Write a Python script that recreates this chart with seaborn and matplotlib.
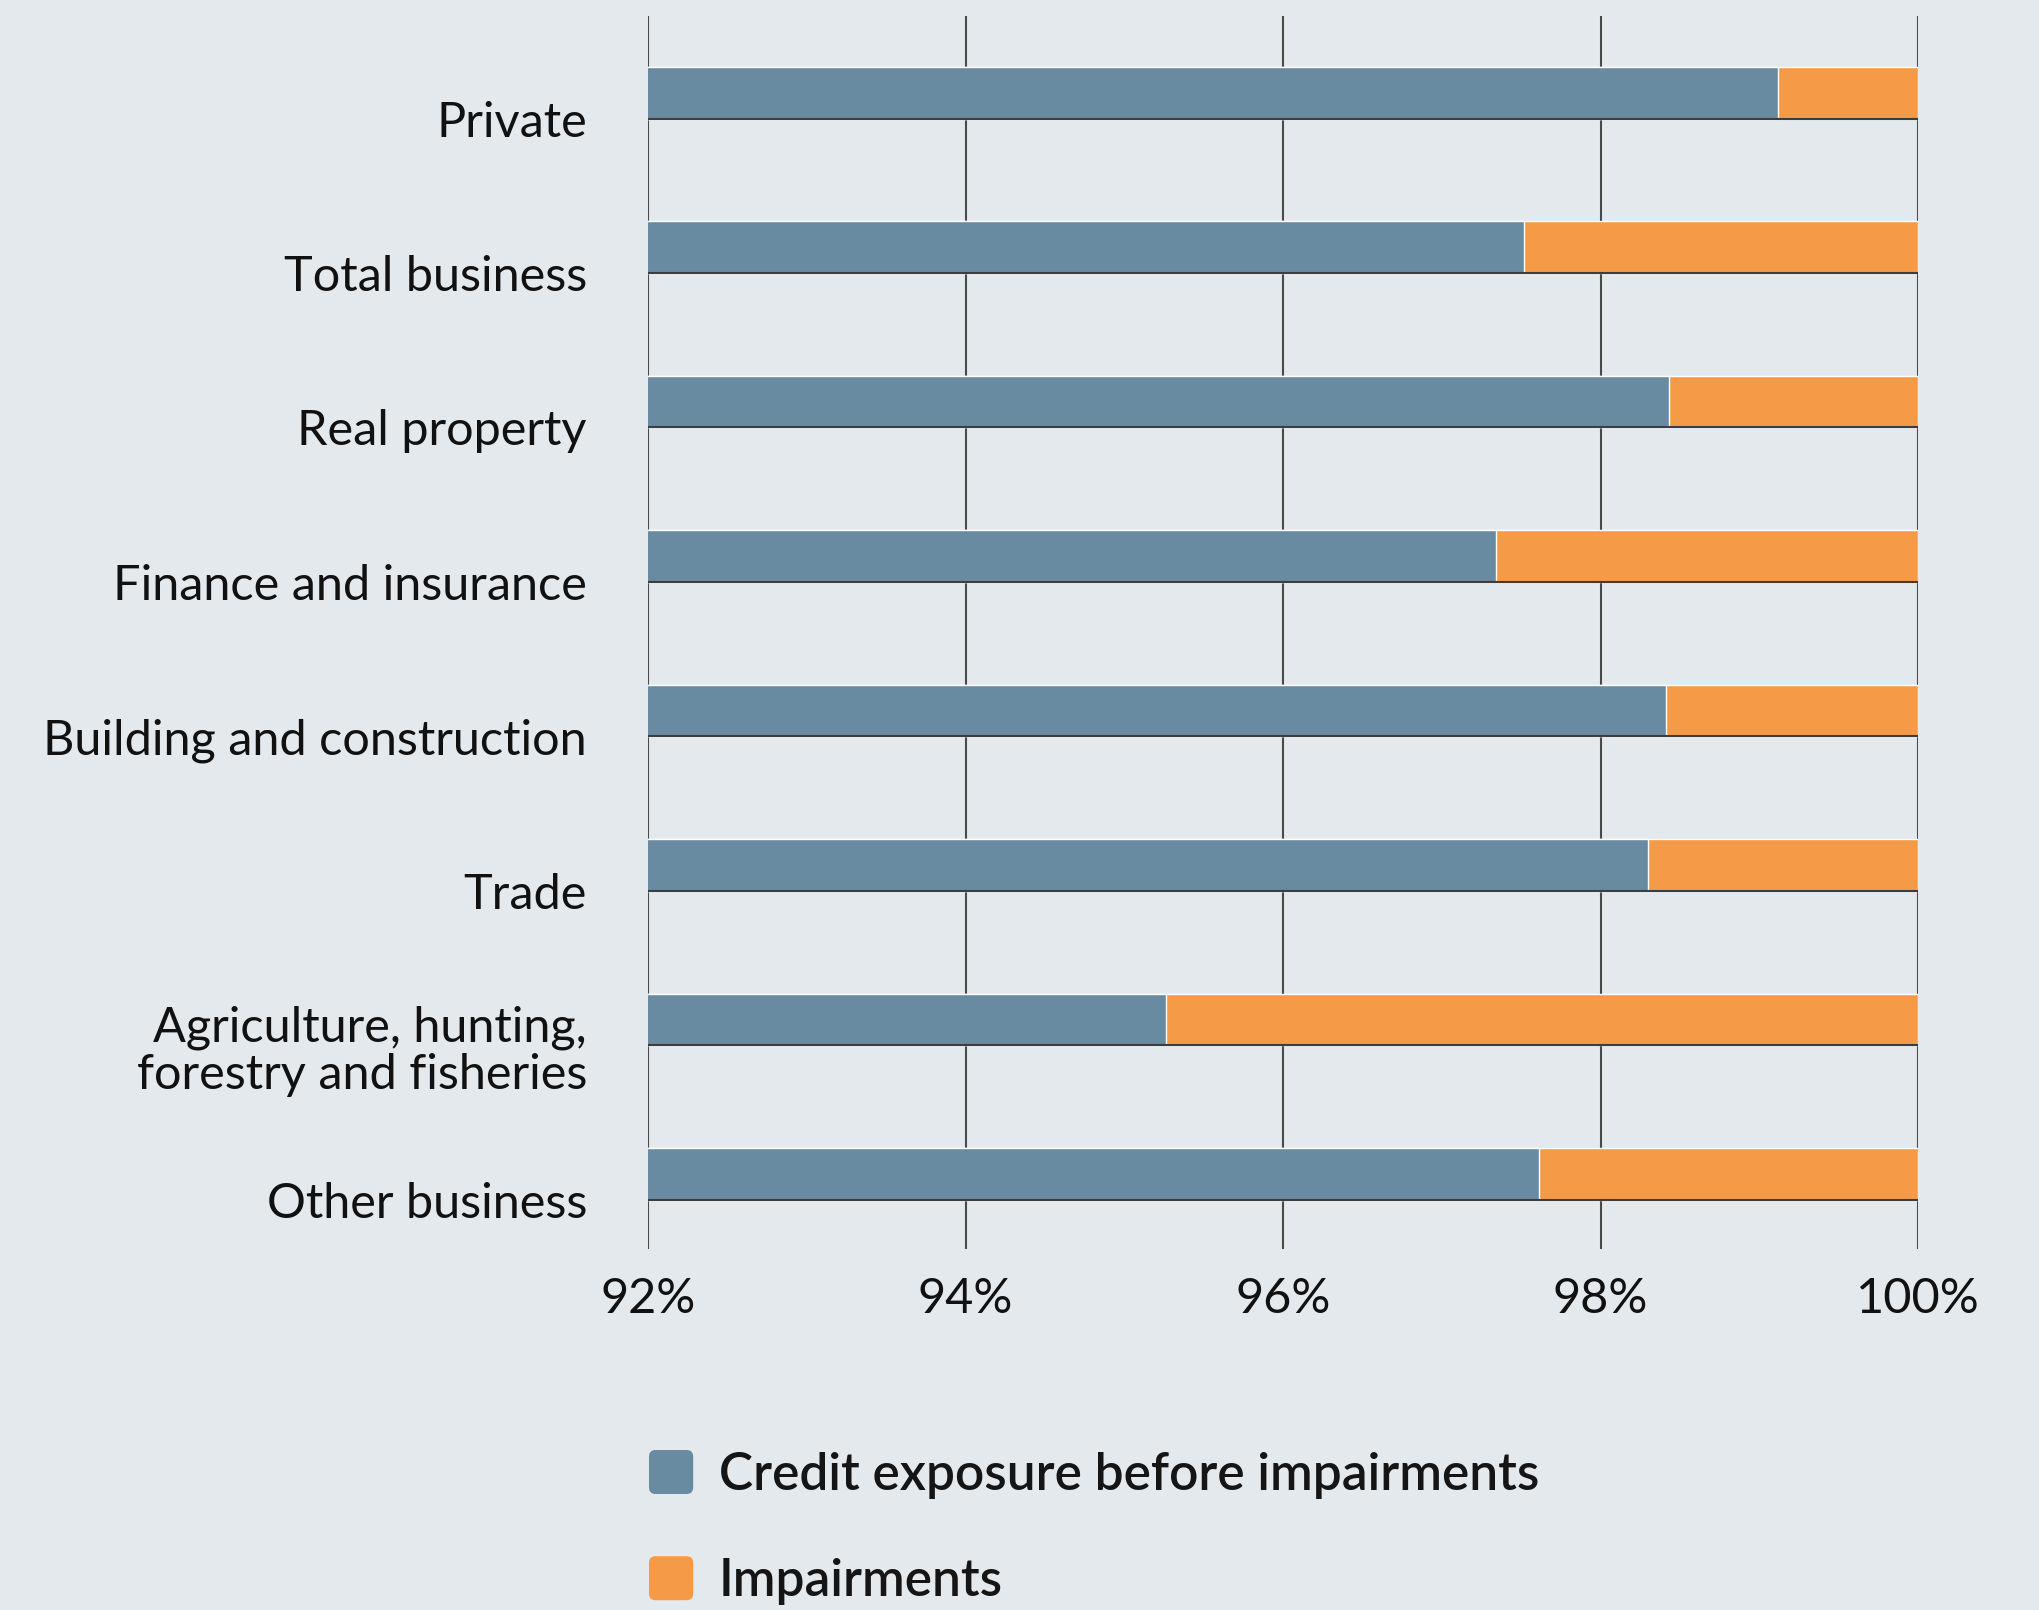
import numpy as np
import pandas as pd
import seaborn as sns
import matplotlib.pyplot as plt
from matplotlib.patches import Patch, FancyBboxPatch
from matplotlib.legend_handler import HandlerPatch

categories = ['Private', 'Total business', 'Real property', 'Finance and insurance',
              'Building and construction', 'Trade',
              'Agriculture, hunting,\nforestry and fisheries', 'Other business']
credit_share = [99.12, 97.52, 98.43, 97.34, 98.41, 98.30, 95.26, 97.61]
impairment_share = [0.88, 2.48, 1.57, 2.66, 1.59, 1.70, 4.74, 2.39]
x_ticks = [92, 94, 96, 98, 100]
x_labels = ['92%', '94%', '96%', '98%', '100%']

BG = '#e4e9ed'
BLUE = '#688ba1'
ORANGE = '#f59b47'


class RoundHandler(HandlerPatch):
    # legend swatch with slightly rounded corners
    def create_artists(self, legend, orig_handle, xdescent, ydescent, width, height, fontsize, trans):
        p = FancyBboxPatch((-xdescent, -ydescent), width, height,
                           boxstyle='round,pad=0,rounding_size=%f' % (height * 0.15),
                           facecolor=orig_handle.get_facecolor(), edgecolor='none', transform=trans)
        return [p]


df = pd.DataFrame({'sector': categories, 'credit': credit_share, 'impairment': impairment_share})
df['total'] = df['credit'] + df['impairment']

sns.set_style('white', {'axes.facecolor': BG, 'figure.facecolor': BG})
plt.rcParams['font.family'] = ['Lato', 'DejaVu Sans']

fig = plt.figure(figsize=(20.4, 16.1), dpi=100)
ax = fig.add_axes([648 / 2040, 1 - 1249 / 1610, (1918 - 648) / 2040, (1249 - 16) / 1610])

bar_h = 0.335
sns.barplot(data=df, x='total', y='sector', orient='h', color=ORANGE, width=bar_h,
            saturation=1, errorbar=None, ax=ax, zorder=2)
sns.barplot(data=df, x='credit', y='sector', orient='h', color=BLUE, width=bar_h,
            saturation=1, errorbar=None, ax=ax, zorder=2)

ax.set_xlim(92, 100)
ax.set_ylim(7.485, -0.496)

# category ticks sit on the bottom edge of each bar
pos = np.arange(len(categories)) + bar_h / 2
ax.set_yticks(pos, categories)
ax.hlines(pos, 92, 100, color='#3d3d3d', lw=1.5, zorder=3)
for t in ax.get_yticklabels():
    t.set_linespacing(1.1)

ax.set_xticks(x_ticks, x_labels)
ax.grid(axis='x', color='#4a4a4a', lw=1.5)
ax.grid(axis='y', visible=False)
ax.set_axisbelow(True)
ax.tick_params(axis='y', length=27, width=1.4, color='#6b6b6b', pad=17, labelsize=35, labelcolor='#111111')
ax.tick_params(axis='x', length=0, pad=20, labelsize=35, labelcolor='#111111')
for s in ax.spines.values():
    s.set_visible(False)
ax.set_xlabel('')
ax.set_ylabel('')

handles = [Patch(facecolor=BLUE, label='Credit exposure before impairments'),
           Patch(facecolor=ORANGE, label='Impairments')]
fig.legend(handles=handles, loc='upper left', bbox_to_anchor=(649 / 2040, 1 - 1450 / 1610),
           frameon=False, prop={'size': 37, 'weight': 'semibold'}, labelcolor='#151515',
           handlelength=0.86, handleheight=0.94, handletextpad=0.5, labelspacing=1.12,
           borderaxespad=0, borderpad=0, handler_map={Patch: RoundHandler()})

plt.savefig('out.png', dpi=100, facecolor=BG)
